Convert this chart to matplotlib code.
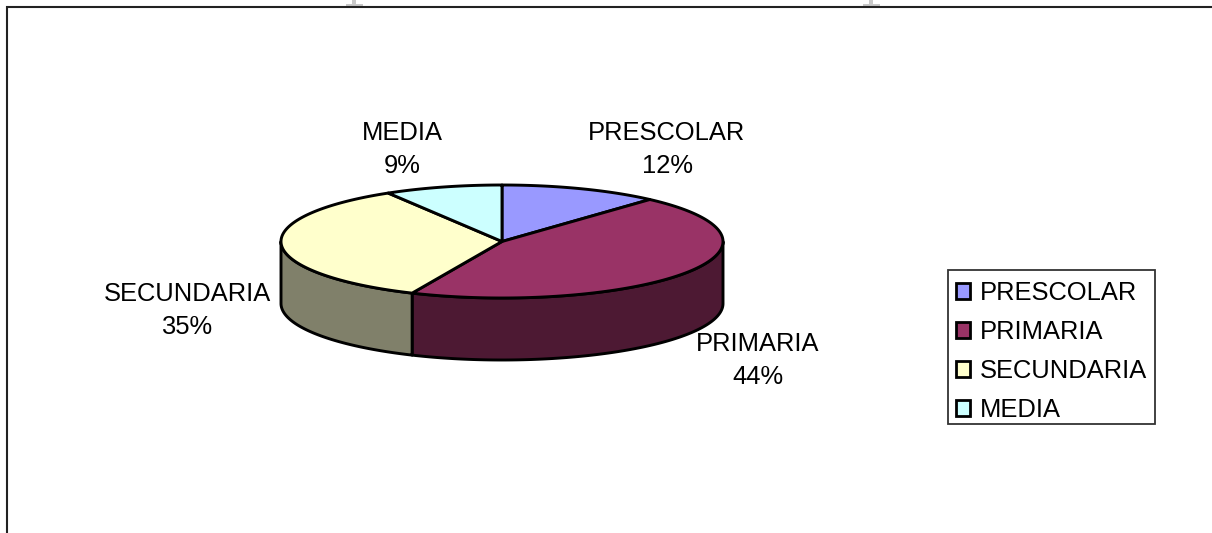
import numpy as np
import matplotlib
matplotlib.use('Agg')
import matplotlib.pyplot as plt
from matplotlib.patches import Polygon, Rectangle

plt.rcParams['font.family'] = ['Liberation Sans', 'DejaVu Sans']

categories = ['PRESCOLAR', 'PRIMARIA', 'SECUNDARIA', 'MEDIA']
values = [12, 44, 35, 9]

top_colors = ['#9999FF', '#993366', '#FFFFCC', '#CCFFFF']
side_colors = ['#4D4D80', '#4D1933', '#80806A', '#668080']

# pie geometry, in image pixels
cx, cy = 502, 241.5
rx, ry = 221, 56.5
depth = 62
lw = 2.1

# where each label goes (centre of the two lines)
label_pos = [(667, 149.5), (758, 360.5), (187, 310.5), (402, 149.5)]


def rim(t):
    # t is degrees clockwise from the top of the ellipse
    r = np.radians(t)
    return cx + rx * np.sin(r), cy - ry * np.cos(r)


def tilt(t):
    # small shift of the slice angles, the original 3d view isnt a pure ellipse projection
    r = np.radians(t)
    return t - 2.2 * np.sin(r) - 0.77 * np.cos(r) + 0.87


fig = plt.figure(figsize=(12.12, 5.33), dpi=100)
ax = fig.add_axes([0, 0, 1, 1])
ax.set_xlim(0, 1212)
ax.set_ylim(533, 0)
ax.axis('off')

# bits of the page showing above the chart frame
for mark_x in [354, 871]:
    ax.add_patch(Rectangle((mark_x - 8.5, 4), 17, 2.5, fc='#c8c8c8', ec='none', zorder=1))
    ax.add_patch(Rectangle((mark_x - 2, 0), 4, 4, fc='#c8c8c8', ec='none', zorder=1))

# chart frame runs off the right and bottom of the image
ax.plot([7, 7, 1212], [533, 7, 7], color='#222222', lw=1.5, zorder=2, solid_joinstyle='miter')

cum = tilt(np.cumsum([0] + values) / sum(values) * 360)
cum[0], cum[-1] = 0, 360

# side wall, only the front half of the ellipse shows
for i in range(len(values)):
    a, b = max(cum[i], 90), min(cum[i + 1], 270)
    if a >= b:
        continue
    t = np.linspace(a, b, 120)
    x, y = rim(t)
    pts = np.r_[np.c_[x, y], np.c_[x[::-1], y[::-1] + depth]]
    ax.add_patch(Polygon(pts, closed=True, fc=side_colors[i], ec='black', lw=lw, zorder=3,
                         joinstyle='round'))

# top face
for i in range(len(values)):
    t = np.linspace(cum[i], cum[i + 1], 120)
    x, y = rim(t)
    pts = np.r_[[[cx, cy]], np.c_[x, y]]
    ax.add_patch(Polygon(pts, closed=True, fc=top_colors[i], ec='black', lw=lw, zorder=4,
                         joinstyle='round'))

for name, v, (lx, ly) in zip(categories, values, label_pos):
    ax.text(lx, ly, f'{name}\n{v}%', ha='center', va='center', fontsize=18.4,
            linespacing=1.47, color='black', zorder=5)

# legend box drawn apart, the rows in the original sit low in it
ax.add_patch(Rectangle((948, 270), 207, 154, fc='white', ec='#333333', lw=1.3, zorder=5))
handles = [Rectangle((0, 0), 1, 1, fc=c, ec='black', lw=2.0) for c in top_colors]
leg = ax.legend(handles, categories, loc='upper left', bbox_to_anchor=(948, 273),
                bbox_transform=ax.transData, borderaxespad=0, fontsize=18.4,
                frameon=False, handlelength=0.58, handleheight=0.58, handletextpad=0.36,
                labelspacing=0.59, borderpad=0.3)
leg.set_zorder(6)

fig.savefig('out.png', dpi=100)
